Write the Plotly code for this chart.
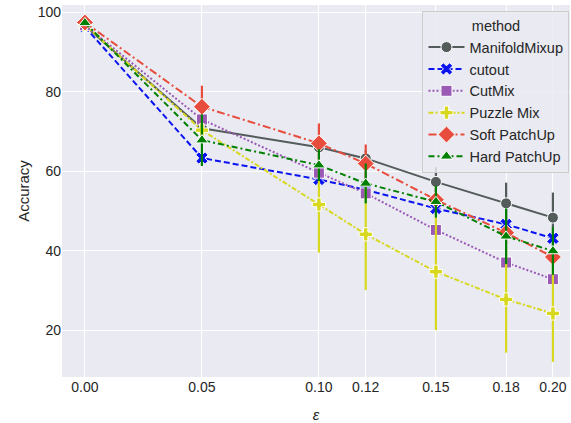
import plotly.graph_objects as go

# Perturbation strength (epsilon) and accuracy per method
eps = [0.00, 0.05, 0.10, 0.12, 0.15, 0.18, 0.20]
eps_labels = ["0.00", "0.05", "0.10", "0.12", "0.15", "0.18", "0.20"]

manifold_mixup = [96.6, 70.8, 66.0, 63.2, 57.3, 51.9, 48.3]
manifold_mixup_err = [0.5, 1.5, 1.5, 2.0, 3.7, 5.2, 6.3]

cutout = [96.3, 63.3, 57.9, 55.3, 50.6, 46.6, 43.1]
cutout_err = [0.5, 1.5, 1.5, 1.5, 1.5, 1.5, 1.5]

cutmix = [96.7, 73.0, 59.6, 54.4, 45.2, 37.0, 32.8]
cutmix_err = [0.5, 1.0, 1.0, 1.0, 1.0, 1.0, 1.0]

puzzle_mix = [96.8, 70.3, 51.6, 44.1, 34.7, 27.7, 24.2]
puzzle_mix_err = [0.5, 2.0, 12.1, 14.0, 14.7, 13.4, 12.2]

soft_patchup = [97.4, 76.2, 67.0, 61.9, 52.8, 44.5, 38.4]
soft_patchup_err = [0.5, 5.3, 5.0, 4.8, 3.0, 3.0, 2.0]

hard_patchup = [97.3, 67.8, 61.5, 56.9, 52.3, 43.6, 39.9]
hard_patchup_err = [0.5, 6.5, 4.0, 5.0, 4.0, 7.0, 6.0]

series = [
    ("ManifoldMixup", manifold_mixup, manifold_mixup_err, "#535b5b", "solid", "circle", 11),
    ("cutout", cutout, cutout_err, "#0a14f0", "6px,3px", "x", 11),
    ("CutMix", cutmix, cutmix_err, "#9b59b6", "2px,2px", "square", 11),
    ("Puzzle Mix", puzzle_mix, puzzle_mix_err, "#d8d81e", "5px,2px,2px,2px", "cross", 11),
    ("Soft PatchUp", soft_patchup, soft_patchup_err, "#e74c3c", "8px,3px,2px,3px", "diamond", 13),
    ("Hard PatchUp", hard_patchup, hard_patchup_err, "#008000", "6px,3px,2px,3px", "triangle-up", 11),
]

fig = go.Figure()
for name, vals, errs, color, dash, symbol, size in series:
    fig.add_trace(go.Scatter(
        x=eps, y=vals, name=name, mode="lines+markers",
        line=dict(color=color, width=2, dash=dash),
        marker=dict(symbol=symbol, size=size, color=color,
                    line=dict(color="white", width=1)),
        error_y=dict(type="data", array=errs, visible=True,
                     color=color, thickness=2.2, width=0),
    ))

font_family = "Liberation Sans, Arial, sans-serif"
fig.update_layout(
    width=571, height=423,
    margin=dict(l=62, r=1, t=5, b=46),
    paper_bgcolor="white",
    plot_bgcolor="#eaeaf2",
    font=dict(family=font_family, size=14, color="#262626"),
    xaxis=dict(
        range=[-0.0098, 0.2073],
        tickvals=eps, ticktext=eps_labels,
        showgrid=True, gridcolor="white", gridwidth=1,
        zeroline=False, showline=False, ticks="",
        tickfont=dict(size=14, color="#262626"),
        title=dict(text="<i>ε</i>", font=dict(size=15), standoff=17),
    ),
    yaxis=dict(
        range=[8.2, 101.8],
        tickvals=[20, 40, 60, 80, 100],
        showgrid=True, gridcolor="white", gridwidth=1,
        zeroline=False, showline=False, ticks="",
        tickfont=dict(size=14, color="#262626"),
        title=dict(text="Accuracy", font=dict(size=15), standoff=4),
    ),
    legend=dict(
        title=dict(text="method", side="top center", font=dict(size=14.5)),
        x=0.999, y=0.983, xanchor="right", yanchor="top",
        bgcolor="rgba(234,234,242,0.85)",
        bordercolor="#cccccc", borderwidth=1,
        font=dict(size=14.5, color="#262626"),
        tracegroupgap=0, itemwidth=36,
    ),
)

fig.write_html("out.html")
